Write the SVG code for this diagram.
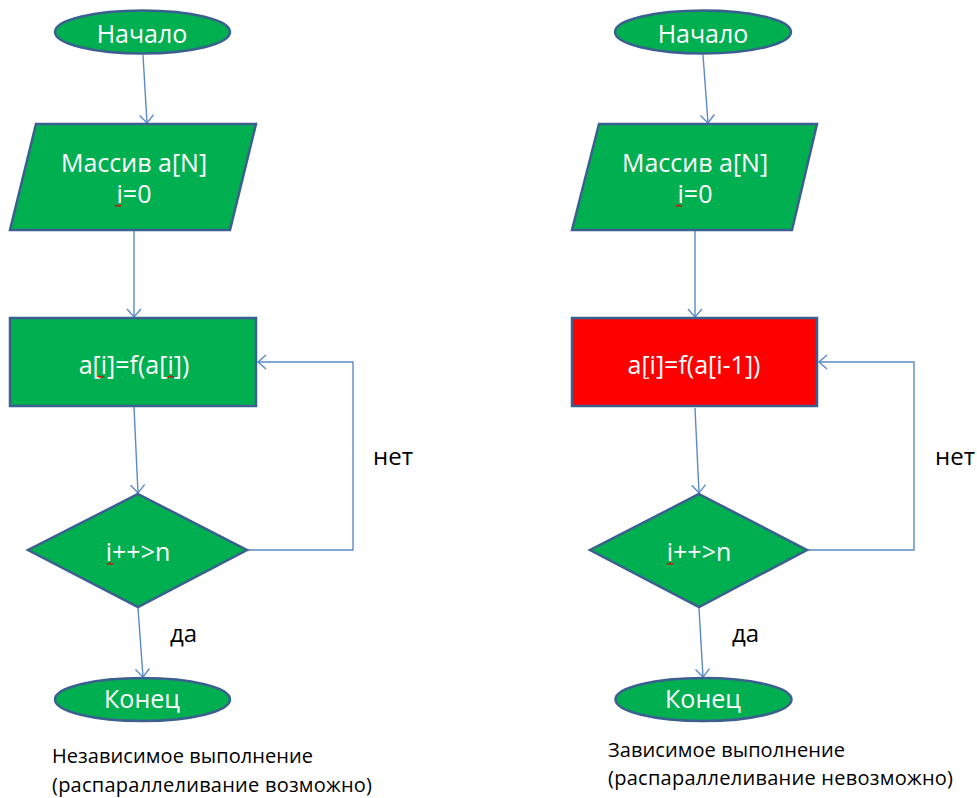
<svg xmlns="http://www.w3.org/2000/svg" width="977" height="798" viewBox="0 0 977 798">
<style>
.shape{stroke:#3B5F8F;stroke-width:2.5;}
.g{fill:#00B050;}
.r{fill:#FF0000;}
.nt{font-family:"Open Sans","Liberation Sans",sans-serif;font-size:25px;fill:#FFFFFF;text-anchor:middle;}
.lbl{font-family:"Open Sans","Liberation Sans",sans-serif;font-size:24px;fill:#000000;}
.cap{font-family:"Open Sans","Liberation Sans",sans-serif;font-size:20px;fill:#000000;}
.conn{stroke:#5B8AC6;stroke-width:1.4;fill:none;}
.sq{stroke:#E00000;stroke-width:1.2;fill:none;}
</style>
<defs>
<marker id="arr" markerUnits="userSpaceOnUse" markerWidth="12" markerHeight="16" refX="9" refY="8" orient="auto">
<path d="M1,1 L9,8 L1,15" stroke="#5B8AC6" stroke-width="1.4" fill="none"/>
</marker>
<path id="squig" d="M-3,0 q1.5,2.5 3,0 q1.5,2.5 3,0"/>
</defs>
<rect width="977" height="798" fill="#FFFFFF"/>

<g id="connectors">
<line class="conn" x1="143" y1="55" x2="147" y2="123" marker-end="url(#arr)"/>
<line class="conn" x1="134" y1="231" x2="134" y2="317" marker-end="url(#arr)"/>
<line class="conn" x1="134" y1="407" x2="138" y2="493" marker-end="url(#arr)"/>
<line class="conn" x1="138" y1="608" x2="143" y2="677" marker-end="url(#arr)"/>
<polyline class="conn" points="247,550 353,550 353,362 258,362" marker-end="url(#arr)"/>
<line class="conn" x1="703" y1="55" x2="708" y2="123" marker-end="url(#arr)"/>
<line class="conn" x1="695" y1="231" x2="695" y2="317" marker-end="url(#arr)"/>
<line class="conn" x1="695" y1="408" x2="699" y2="493" marker-end="url(#arr)"/>
<line class="conn" x1="699" y1="608" x2="703" y2="677" marker-end="url(#arr)"/>
<polyline class="conn" points="807,550 914,550 914,362 819,362" marker-end="url(#arr)"/>
</g>

<g id="start-left">
<ellipse class="shape g" cx="142.5" cy="32" rx="87.5" ry="21.5"/>
<text class="nt" x="142" y="43">Начало</text>
</g>
<g id="input-left">
<polygon class="shape g" points="36,124 256,124 230,230 10,230"/>
<text class="nt" x="134" y="172">Массив a[N]</text>
<text class="nt" x="134" y="203">i=0</text>
<use href="#squig" class="sq" x="118" y="205"/>
</g>
<g id="process-left">
<rect class="shape g" x="10" y="318" width="246" height="88"/>
<text class="nt" x="134" y="374">a[i]=f(a[i])</text>
<use href="#squig" class="sq" x="101" y="376"/>
<use href="#squig" class="sq" x="171" y="376"/>
</g>
<g id="decision-left">
<polygon class="shape g" points="138,494 247,550 138,607 28,550"/>
<text class="nt" x="138" y="561">i++&gt;n</text>
<use href="#squig" class="sq" x="110" y="563"/>
</g>
<g id="end-left">
<ellipse class="shape g" cx="142.5" cy="699.5" rx="87.5" ry="21.5"/>
<text class="nt" x="142" y="708">Конец</text>
</g>
<text class="lbl" x="373" y="465">нет</text>
<text class="lbl" x="170" y="642">да</text>
<text class="cap" x="52" y="763" textLength="261">Независимое выполнение</text>
<text class="cap" x="52" y="792" textLength="320">(распараллеливание возможно)</text>

<g id="start-right">
<ellipse class="shape g" cx="703" cy="32" rx="88" ry="21.5"/>
<text class="nt" x="703" y="43">Начало</text>
</g>
<g id="input-right">
<polygon class="shape g" points="599,124 817,124 792,230 572,230"/>
<text class="nt" x="695" y="172">Массив a[N]</text>
<text class="nt" x="695" y="203">i=0</text>
<use href="#squig" class="sq" x="679" y="205"/>
</g>
<g id="process-right">
<rect class="shape r" x="572" y="318" width="245" height="88"/>
<text class="nt" x="694" y="374">a[i]=f(a[i-1])</text>
<use href="#squig" class="sq" x="648" y="376"/>
<use href="#squig" class="sq" x="718" y="376"/>
</g>
<g id="decision-right">
<polygon class="shape g" points="699,494 807,550 699,607 590,550"/>
<text class="nt" x="699" y="561">i++&gt;n</text>
<use href="#squig" class="sq" x="670" y="563"/>
</g>
<g id="end-right">
<ellipse class="shape g" cx="703.5" cy="699.5" rx="88" ry="21.5"/>
<text class="nt" x="703" y="708">Конец</text>
</g>
<text class="lbl" x="935" y="465">нет</text>
<text class="lbl" x="732" y="642">да</text>
<text class="cap" x="608" y="757" textLength="237">Зависимое выполнение</text>
<text class="cap" x="608" y="785" textLength="345">(распараллеливание невозможно)</text>
</svg>
